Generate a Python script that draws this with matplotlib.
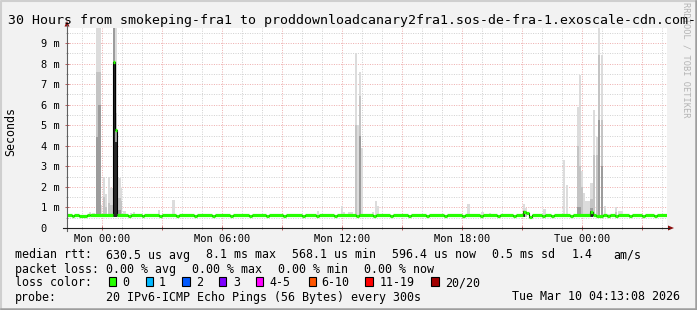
# smokeping style 30h graph, rebuilt with matplotlib
import numpy as np
import matplotlib
matplotlib.use("Agg")
import matplotlib.pyplot as plt
from matplotlib.patches import Rectangle, Polygon
from matplotlib.lines import Line2D

W, H = 697, 310
MONO = "DejaVu Sans Mono"
STEP_H = 5 / 60.0      # one sample = 300 s

# x is hours relative to Mon 00:00, y is ms
X_START, X_END = -1.75, 28.25
Y_MAX = 9.73

tick_hours = [0, 6, 12, 18, 24]
tick_labels = ["Mon 00:00", "Mon 06:00", "Mon 12:00", "Mon 18:00", "Tue 00:00"]
ytick_ms = [0, 1, 2, 3, 4, 5, 6, 7, 8, 9]
ytick_labels = ["0  ", "1 m", "2 m", "3 m", "4 m", "5 m", "6 m", "7 m", "8 m", "9 m"]

# median rtt, each value holds until the next start
med_start = [-1.75, -1.50, -1.40, -1.15, -0.75, -0.60, 0.55, 0.67, 0.77, 1.30,
             1.45, 2.00, 2.10, 2.85, 3.00, 3.70, 3.85, 4.60, 4.75, 5.50,
             5.65, 6.40, 6.55, 7.35, 7.50, 8.20, 8.35, 9.05, 9.20, 10.00,
             10.15, 10.70, 10.85, 11.60, 11.75, 12.70, 12.85, 13.55, 13.70, 14.40,
             14.55, 15.30, 15.45, 16.20, 16.35, 17.10, 17.25, 18.00, 18.15, 18.90,
             19.05, 19.75, 19.90, 20.55, 20.70, 21.05, 21.20, 21.35, 21.50, 22.00,
             22.15, 22.45, 22.60, 23.40, 23.55, 24.40, 24.55, 24.70, 25.05, 25.25,
             25.40, 25.65, 25.80, 26.35, 26.50, 27.00, 27.15, 27.60, 27.75]
med_ms = [0.61, 0.57, 0.61, 0.57, 0.61, 0.62, 8.07, 4.78, 0.61, 0.57,
          0.61, 0.57, 0.61, 0.57, 0.61, 0.57, 0.61, 0.57, 0.61, 0.57,
          0.61, 0.57, 0.61, 0.57, 0.61, 0.57, 0.61, 0.57, 0.61, 0.57,
          0.61, 0.57, 0.61, 0.57, 0.61, 0.57, 0.61, 0.57, 0.61, 0.57,
          0.61, 0.57, 0.61, 0.57, 0.61, 0.57, 0.61, 0.57, 0.61, 0.57,
          0.61, 0.57, 0.61, 0.57, 0.61, 0.80, 0.74, 0.55, 0.61, 0.57,
          0.61, 0.57, 0.61, 0.57, 0.61, 0.80, 0.61, 0.57, 0.61, 0.57,
          0.61, 0.57, 0.61, 0.57, 0.61, 0.57, 0.61, 0.57, 0.61]

# smoke: start hour, width in samples, and band tops (ms), 0 = band absent
smoke_start = [-0.65, -0.50, -0.28, -0.20, -0.07, 0.05, 0.17, 0.30, 0.40, 0.55,
               0.67, 0.77, 0.93, 1.05, 1.40, 1.55, 2.80, 3.50, 10.75, 11.95,
               12.05, 12.30, 12.65, 12.75, 12.85, 12.95, 13.50, 13.65, 13.75, 18.25,
               18.95, 19.35, 21.05, 21.15, 22.05, 23.05, 23.20, 23.75, 23.85, 23.95,
               24.05, 24.15, 24.40, 24.55, 24.70, 24.80, 24.95, 25.10, 25.30, 25.65,
               25.80]
smoke_steps = [1, 2, 1, 2, 1, 1, 1, 1, 2, 1,
               1, 2, 1, 2, 1, 1, 1, 2, 1, 1,
               1, 3, 1, 1, 1, 1, 1, 1, 1, 2,
               2, 1, 1, 1, 2, 1, 1, 1, 1, 1,
               1, 3, 2, 1, 1, 1, 1, 1, 3, 1,
               3]
smoke_outer = [0.80, 0.75, 9.73, 9.73, 1.10, 2.50, 1.65, 2.50, 1.95, 9.73,
               9.80, 2.43, 1.95, 0.85, 0.75, 0.78, 0.90, 1.35, 0.85, 1.05,
               0.80, 0.80, 8.50, 5.00, 7.60, 3.90, 0.80, 1.33, 1.05, 1.18,
               0.80, 0.75, 1.18, 0.95, 0.92, 3.32, 2.10, 5.90, 7.45, 2.75,
               1.70, 1.30, 2.20, 5.75, 4.45, 9.73, 8.43, 1.05, 0.70, 1.02,
               0.85]
smoke_upper = [0, 0, 7.60, 7.60, 0, 1.50, 1.00, 1.20, 1.10, 9.73,
               5.60, 1.47, 1.30, 0, 0, 0, 0, 0, 0, 0,
               0, 0, 5.00, 0, 6.40, 0, 0, 0, 0, 0,
               0, 0, 0.90, 0.85, 0, 0, 0, 3.97, 3.00, 2.00,
               0, 0, 1.40, 3.57, 3.57, 8.43, 5.27, 0, 0, 0.80,
               0]
smoke_inner = [0, 0, 4.45, 6.00, 0, 0, 0, 0, 0, 9.73,
               4.78, 0.90, 0, 0, 0, 0, 0, 0, 0, 0,
               0, 0, 0, 0, 4.50, 0, 0, 0, 0, 0,
               0, 0, 0.85, 0, 0, 0, 0, 1.00, 1.00, 0,
               0, 0, 0.95, 0, 0, 5.27, 3.00, 0, 0, 0,
               0]
smoke_core = [0, 0, 0, 0, 0, 0, 0, 0, 0, 8.07,
              4.20, 0, 0, 0, 0, 0, 0, 0, 0, 0,
              0, 0, 0, 0, 0, 0, 0, 0, 0, 0,
              0, 0, 0.82, 0, 0, 0, 0, 0, 0, 0,
              0, 0, 0.85, 0, 0, 0, 0, 0, 0, 0,
              0]
SMOKE_FLOOR = 0.55

loss_labels = ["0", "1", "2", "3", "4-5", "6-10", "11-19", "20/20"]
loss_colors = ["#26ff00", "#00b8ff", "#0059ff", "#7e00ff", "#ff00ff", "#ff5500", "#ff0000", "#a10000"]
loss_box_x = [108.5, 145.5, 182.0, 218.5, 255.8, 308.5, 365.2, 431.2]
loss_text_x = [123.0, 159.8, 197.0, 233.8, 270.5, 322.3, 380.3, 445.6]

SMOKE_COLORS = ["#dcdcdc", "#c4c4c4", "#9c9c9c", "#282828"]
BG = "#f2f2f2"
MAJOR_GRID = "#eeb0b0"
MINOR_GRID = "#d2d2d2"


def fx(x):
    return x / W


def fy(y):
    return 1 - y / H


fig = plt.figure(figsize=(W / 100, H / 100), dpi=100)
fig.patch.set_facecolor(BG)
ax = fig.add_axes([fx(67), fy(228), 600 / W, 200 / H])
ax.set_facecolor("white")
ax.set_xlim(X_START, X_END)
ax.set_ylim(0, Y_MAX)
for s in ax.spines.values():
    s.set_visible(False)

# grid (dotted, under the data)
ax.set_xticks(np.arange(0, 28, 3))
ax.set_xticks(np.arange(-1, 29, 1), minor=True)
ax.set_yticks(ytick_ms)
ax.set_yticks(np.arange(0.5, 9.6, 1.0), minor=True)
ax.grid(which="major", color=MAJOR_GRID, lw=0.72, ls=(0, (1, 1.4)))
ax.grid(which="minor", color=MINOR_GRID, lw=0.72, ls=(0, (1, 1.4)))
ax.set_axisbelow(True)
xt_lab = [tick_labels[tick_hours.index(h)] if h in tick_hours else "" for h in range(0, 28, 3)]
ax.set_xticklabels(xt_lab, fontfamily=MONO, fontsize=7.5)
ax.set_yticklabels(ytick_labels, fontfamily=MONO, fontsize=7.5)
ax.tick_params(which="major", direction="inout", length=3, width=0.72, color="#c06060", pad=2.6)
ax.tick_params(which="minor", direction="inout", length=2, width=0.72, color="#a0a0a0")
ax.tick_params(axis="y", which="major", pad=3.6)

# smoke, lightest band first
bands = [smoke_outer, smoke_upper, smoke_inner, smoke_core]
for band, col in zip(bands, SMOKE_COLORS):
    for t0, n, top in zip(smoke_start, smoke_steps, band):
        if top <= SMOKE_FLOOR:
            continue
        ax.bar(t0, top - SMOKE_FLOOR, width=n * STEP_H, bottom=SMOKE_FLOOR,
               align="edge", color=col, linewidth=0, zorder=2)

# median: thin black step line then green segments on top
med_end = med_start[1:] + [X_END]
ax.step(med_start + [X_END], med_ms + [med_ms[-1]], where="post", color="black", lw=0.8, zorder=3)
ax.hlines(med_ms, med_start, med_end, color="#26ff00", lw=2.3, zorder=4, capstyle="butt")

# axes lines with arrows (pixel coords)
fig.add_artist(Line2D([fx(67), fx(67)], [fy(231), fy(25)], color="#606060", lw=0.8))
fig.add_artist(Line2D([fx(63), fx(669)], [fy(228), fy(228)], color="#202020", lw=0.8))
fig.add_artist(Polygon([[fx(64.5), fy(26.5)], [fx(69.5), fy(26.5)], [fx(67), fy(21)]],
                       closed=True, color="#8b1010", lw=0))
fig.add_artist(Polygon([[fx(668), fy(225.5)], [fx(668), fy(230.5)], [fx(674), fy(228)]],
                       closed=True, color="#8b1010", lw=0))

# watermark + titles
fig.text(fx(686), fy(2), "RRDTOOL / TOBI OETIKER", rotation=270, ha="center", va="top",
         fontfamily=MONO, fontsize=6.2, color="#b4b4b4")
fig.text(fx(7.5), fy(24), "30 Hours from smokeping-fra1 to proddownloadcanary2fra1.sos-de-fra-1.exoscale-cdn.com-",
         ha="left", va="baseline", fontfamily=MONO, fontsize=9.5, color="black")
fig.text(fx(10.5), fy(132), "Seconds", rotation=90, ha="center", va="center",
         fontfamily=MONO, fontsize=8.4)

# legend block
legend_rows = [
    (258.5, [(16, "median rtt:"), (107.3, "630.5 us avg"), (207.3, "8.1 ms max"),
             (293.3, "568.1 us min"), (393.3, "596.4 us now"), (493.3, "0.5 ms sd"),
             (572.7, "1.4"), (614.3, "am/s")]),
    (272.8, [(16, "packet loss:"), (107.3, "0.00 % avg"), (193.3, "0.00 % max"),
             (279.3, "0.00 % min"), (365.3, "0.00 % now")]),
    (286.5, [(16, "loss color:")]),
    (300.5, [(16, "probe:"), (107.3, "20 IPv6-ICMP Echo Pings (56 Bytes) every 300s"),
             (513.3, "Tue Mar 10 04:13:08 2026")]),
]
for ybase, items in legend_rows:
    for x, txt in items:
        fig.text(fx(x - 0.8), fy(ybase), txt, ha="left", va="baseline",
                 fontfamily=MONO, fontsize=8.4, color="black")

for bx, tx, col, lab in zip(loss_box_x, loss_text_x, loss_colors, loss_labels):
    fig.add_artist(Rectangle((fx(bx), fy(286.3)), 7.6 / W, 9.8 / H, facecolor=col,
                             edgecolor="black", lw=0.8, transform=fig.transFigure))
    fig.text(fx(tx - 0.8), fy(286.5), lab, ha="left", va="baseline",
             fontfamily=MONO, fontsize=8.4, color="black")

# 3d frame around the image
fig.add_artist(Line2D([fx(0.5), fx(0.5), fx(697)], [fy(309), fy(0.5), fy(0.5)], color="#cfcfcf", lw=1.5))
fig.add_artist(Line2D([fx(0.5), fx(696), fx(696)], [fy(308.8), fy(308.8), fy(0.5)], color="#9e9e9e", lw=1.8))

fig.savefig("out.png", dpi=100, facecolor=BG)
